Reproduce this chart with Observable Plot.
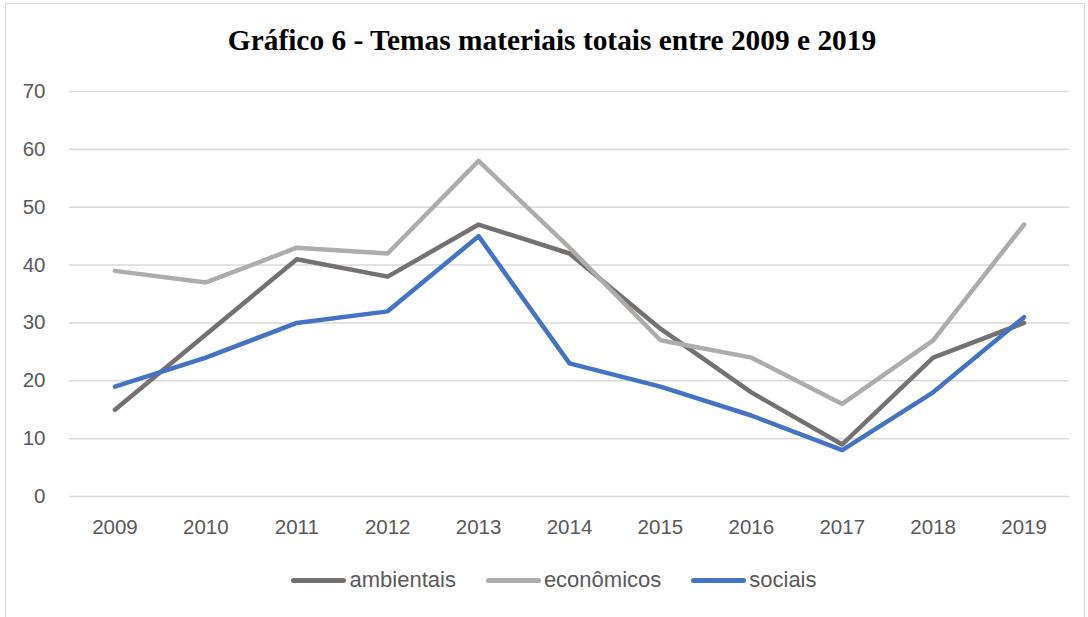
<!DOCTYPE html>
<html>
<head>
<meta charset="utf-8">
<script src="https://cdn.jsdelivr.net/npm/d3@7"></script>
<script src="https://cdn.jsdelivr.net/npm/@observablehq/plot@0.6"></script>
<style>
  html, body { margin: 0; padding: 0; background: #fff; }
  body { width: 1088px; height: 617px; position: relative; overflow: hidden; }
  #frame { position: absolute; left: 5px; top: 3px; width: 1080px; height: 640px; border: 1.5px solid #d9d9d9; box-sizing: border-box; }
  #title { position: absolute; left: 0; top: 24px; width: 1104px; text-align: center; font-family: "Liberation Serif", "Times New Roman", serif; font-weight: bold; font-size: 29.4px; color: #000; }
  #chart { position: absolute; left: 0; top: 60px; }
  #legend { position: absolute; left: 0; top: 567px; width: 1108px; display: flex; justify-content: center; font-family: "Liberation Sans", Arial, sans-serif; font-size: 22px; color: #595959; }
  .item { display: flex; align-items: center; margin: 0 15px; }
  .sw { width: 55px; height: 5px; border-radius: 3px; margin-right: 3px; }
</style>
</head>
<body>
<div id="frame"></div>
<div id="title">Gráfico 6 - Temas materiais totais entre 2009 e 2019</div>
<div id="chart"></div>
<div id="legend"></div>
<script>
const years = ["2009","2010","2011","2012","2013","2014","2015","2016","2017","2018","2019"];
const ambientais = [15, 28, 41, 38, 47, 42, 29, 18, 9, 24, 30];
const economicos = [39, 37, 43, 42, 58, 43, 27, 24, 16, 27, 47];
const sociais = [19, 24, 30, 32, 45, 23, 19, 14, 8, 18, 31];
const seriesNames = ["ambientais", "econômicos", "sociais"];
const seriesColors = ["#767171", "#AEABAB", "#4472C4"];
const yTicks = [0, 10, 20, 30, 40, 50, 60, 70];

const seriesValues = [ambientais, economicos, sociais];
const data = [];
seriesNames.forEach((name, si) => {
  years.forEach((yr, i) => data.push({year: yr, value: seriesValues[si][i], series: name}));
});

const plot = Plot.plot({
  width: 1088,
  height: 500,
  marginTop: 31,
  marginBottom: 64,
  marginLeft: 69,
  marginRight: 19,
  style: {fontFamily: "'Liberation Sans', Arial, sans-serif", fontSize: "20px", color: "#595959", background: "transparent"},
  x: {type: "point", domain: years, padding: 0.5, round: false, label: null},
  y: {domain: [0, 70], ticks: yTicks, label: null},
  color: {domain: seriesNames, range: seriesColors},
  marks: [
    Plot.gridY(yTicks, {stroke: "#d9d9d9", strokeOpacity: 1, strokeWidth: 1.5}),
    Plot.axisY(yTicks, {tickSize: 0, tickPadding: 24, fill: "#595959", fontSize: 20.5, label: null}),
    Plot.axisX({tickSize: 0, tickPadding: 23, fill: "#595959", fontSize: 20.5, label: null}),
    Plot.line(data, {x: "year", y: "value", z: "series", stroke: "series", strokeWidth: 4.5, strokeLinecap: "round", strokeLinejoin: "round"})
  ]
});
document.getElementById("chart").appendChild(plot);

const legend = document.getElementById("legend");
seriesNames.forEach((name, i) => {
  const item = document.createElement("div");
  item.className = "item";
  const sw = document.createElement("div");
  sw.className = "sw";
  sw.style.background = seriesColors[i];
  const label = document.createElement("span");
  label.textContent = name;
  item.appendChild(sw);
  item.appendChild(label);
  legend.appendChild(item);
});
</script>
</body>
</html>
